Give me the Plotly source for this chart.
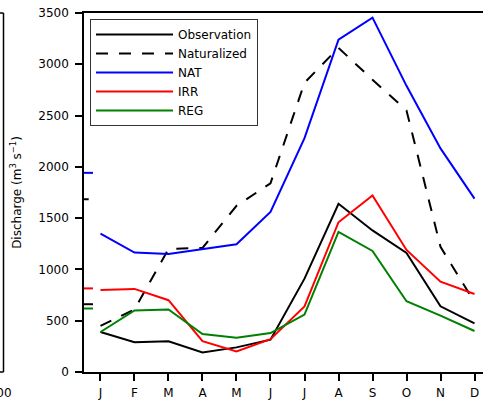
import numpy as np
import plotly.graph_objects as go

# ---- data ----
month_labels = ["J", "F", "M", "A", "M", "J", "J", "A", "S", "O", "N", "D"]
month_index = list(range(1, 13))

observation = [390, 290, 300, 190, 240, 315, 910, 1640, 1380, 1160, 640, 475]
naturalized = [450, 610, 1200, 1210, 1620, 1840, 2820, 3160, 2850, 2550, 1220, 680]
nat = [1350, 1165, 1150, 1195, 1245, 1560, 2280, 3240, 3455, 2790, 2180, 1690]
irr = [800, 810, 700, 300, 200, 320, 640, 1460, 1720, 1190, 880, 760]
reg = [390, 600, 610, 370, 335, 380, 560, 1365, 1180, 690, 550, 400]

y_ticks = [0, 500, 1000, 1500, 2000, 2500, 3000, 3500]

series = [
    ("Observation", observation, "black", "solid"),
    ("Naturalized", naturalized, "black", "12px,11px"),
    ("NAT", nat, "#0000ff", "solid"),
    ("IRR", irr, "#ff0000", "solid"),
    ("REG", reg, "#008000", "solid"),
]

# layout geometry
W, H = 483, 401
ML, MR, MT, MB = 84, 0, 13, 29
PW = W - ML - MR

x_lo, x_hi = 0.515, 12.25
mean_x = [0.3, 0.78]  # short annual-mean marks at the left edge

fig = go.Figure()

for name, vals, col, dash in series:
    fig.add_trace(go.Scatter(
        x=month_index, y=vals, mode="lines", name=name,
        line=dict(color=col, width=2, dash=dash),
    ))

for name, vals, col, dash in series:
    m = float(np.mean(vals))
    fig.add_trace(go.Scatter(
        x=mean_x, y=[m, m], mode="lines", showlegend=False, hoverinfo="skip",
        line=dict(color=col, width=2, dash=dash),
    ))

def px_to_paper_x(px):
    return (px - ML) / PW

# remnants of the neighbouring (left) panel
lx = px_to_paper_x(3.5)
fig.add_shape(type="line", xref="paper", yref="paper", x0=lx, x1=lx, y0=0, y1=1,
              line=dict(color="black", width=1.5))
fig.add_shape(type="line", xref="paper", yref="paper", x0=px_to_paper_x(-2), x1=lx, y0=1, y1=1,
              line=dict(color="black", width=1.5))
fig.add_shape(type="line", xref="paper", yref="paper", x0=px_to_paper_x(-2), x1=lx, y0=0, y1=0,
              line=dict(color="black", width=1.5))
fig.add_annotation(text="2000", xref="paper", yref="paper", x=px_to_paper_x(14), y=0,
                   xanchor="right", yanchor="top", yshift=-12, showarrow=False,
                   font=dict(size=12, color="black"))

fig.update_layout(
    width=W, height=H,
    margin=dict(l=ML, r=MR, t=MT, b=MB),
    paper_bgcolor="white", plot_bgcolor="white",
    font=dict(family="DejaVu Sans", size=12, color="black"),
    showlegend=True,
    legend=dict(
        x=px_to_paper_x(90), y=0.983, xanchor="left", yanchor="top",
        bordercolor="#333333", borderwidth=1, bgcolor="white",
        font=dict(size=12), itemwidth=77, tracegroupgap=0,
    ),
    xaxis=dict(
        range=[x_lo, x_hi], tickmode="array", tickvals=month_index, ticktext=month_labels,
        showgrid=False, zeroline=False, showline=True, linecolor="black", linewidth=1.5,
        mirror=True, ticks="outside", ticklen=7, tickwidth=1.5, tickcolor="black",
        tickfont=dict(size=12), automargin=False, ticklabelstandoff=2,
    ),
    yaxis=dict(
        range=[0, 3500], tickmode="array", tickvals=y_ticks,
        showgrid=False, zeroline=False, showline=True, linecolor="black", linewidth=1.5,
        ticks="outside", ticklen=7, tickwidth=1.5, tickcolor="black",
        tickfont=dict(size=12), automargin=False, ticklabelstandoff=4,
        title=dict(text="Discharge (m<sup>3</sup> s<sup>\u22121</sup>)", font=dict(size=12), standoff=14),
    ),
)

fig.write_html("out.html", config={"displayModeBar": False},
               post_script="document.body.style.margin='0';document.body.style.overflow='hidden';")
